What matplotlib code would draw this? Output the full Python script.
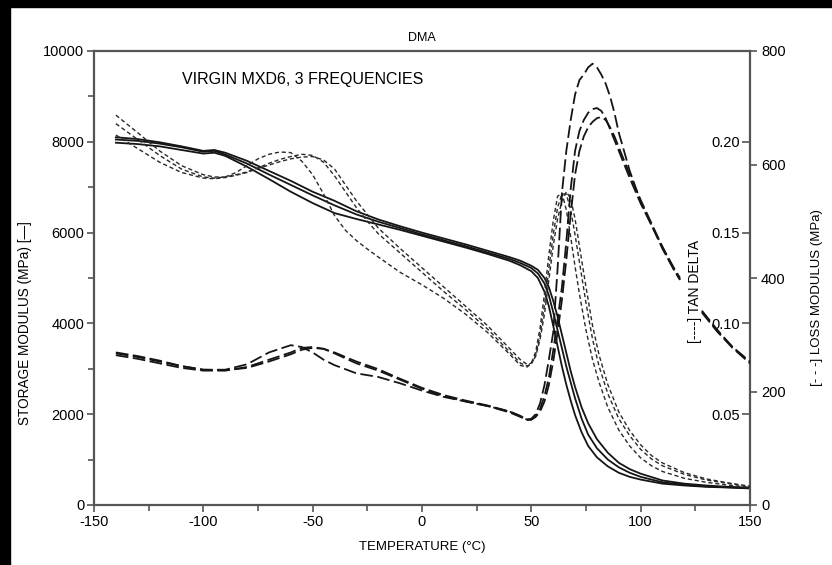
import numpy as np
import matplotlib
matplotlib.use("Agg")
import matplotlib.pyplot as plt
from matplotlib.patches import Rectangle

plt.rcParams['font.family'] = ['Liberation Sans', 'DejaVu Sans']
plt.rcParams['axes.unicode_minus'] = False

# Storage modulus (MPa), three frequencies
temp_e = [-140, -130, -120, -110, -100, -95, -90, -80, -70, -60, -50, -40, -30, -20, -10, 0, 10,
          20, 30, 40, 45, 50, 53, 56, 58, 60, 62, 64, 66, 68, 70, 73, 76, 80, 85, 90, 95, 100,
          110, 120, 130, 140, 150]
storage_lo = [7980, 7950, 7900, 7820, 7740, 7760, 7690, 7450, 7180, 6900, 6650, 6430, 6300, 6180,
              6060, 5930, 5800, 5670, 5530, 5380, 5280, 5150, 5000, 4700, 4380, 3950, 3500, 3050,
              2650, 2300, 1980, 1600, 1300, 1050, 850, 710, 620, 560, 470, 430, 400, 385, 365]
storage_mid = [8050, 8020, 7960, 7880, 7780, 7800, 7720, 7520, 7280, 7050, 6820, 6600, 6400, 6240,
               6100, 5960, 5830, 5700, 5560, 5420, 5330, 5220, 5100, 4880, 4620, 4250, 3850, 3450,
               3050, 2700, 2350, 1900, 1550, 1250, 1000, 830, 710, 620, 500, 445, 410, 390, 370]
storage_hi = [8100, 8060, 7990, 7900, 7800, 7820, 7760, 7580, 7360, 7140, 6900, 6700, 6470, 6290,
              6140, 6000, 5870, 5740, 5600, 5460, 5380, 5270, 5180, 5000, 4800, 4500, 4150, 3750,
              3350, 2950, 2600, 2150, 1800, 1450, 1150, 930, 790, 690, 540, 470, 430, 400, 380]

# Loss modulus (MPa)
temp_l = [-140, -130, -120, -110, -100, -95, -90, -85, -80, -75, -70, -65, -60, -55, -50, -45, -40,
          -35, -30, -25, -20, -10, 0, 10, 20, 30, 40, 45, 48, 50, 52, 54, 56, 58, 60, 62, 64, 66,
          68, 70, 72, 75, 78, 81, 85, 90, 95, 100, 105, 110, 120, 130, 140, 150]
loss_lo = [672, 644, 616, 592, 578, 576, 578, 586, 598, 610, 618, 622, 621, 606, 582, 548, 510,
           484, 466, 451, 437, 410, 388, 364, 336, 304, 266, 246, 243, 250, 270, 312, 372, 440,
           500, 544, 550, 520, 472, 420, 372, 308, 256, 216, 172, 132, 104, 83, 69, 59, 47, 40, 35, 31]
loss_mid = [687, 656, 624, 598, 582, 578, 578, 582, 587, 594, 602, 609, 614, 618, 616, 604, 580,
            552, 524, 500, 478, 444, 410, 376, 344, 310, 270, 250, 245, 248, 264, 300, 352, 416,
            476, 524, 548, 548, 520, 476, 428, 356, 292, 244, 196, 152, 122, 98, 81, 69, 54, 44, 38, 32]
loss_hi = [652, 628, 604, 586, 576, 575, 577, 581, 586, 593, 599, 605, 610, 613, 614, 608, 592,
           564, 536, 512, 488, 452, 418, 384, 350, 316, 276, 256, 248, 250, 262, 292, 336, 396,
           456, 504, 536, 552, 540, 504, 456, 384, 316, 264, 212, 164, 131, 106, 87, 74, 57, 46, 39, 33]

# Tan delta (gap where the record is missing)
temp_d = [-140, -130, -120, -110, -100, -90, -80, -70, -60, -55, -50, -45, -40, -30, -20, -10, 0,
          10, 20, 30, 40, 45, 48, 50, 52, 54, 56, 58, 60, 62, 64, 66, 68, 70, 72, 74, 76, 78, 80,
          82, 84, 86, 88, 90, 95, 100, 105, 110, 115, 118, 122, 128, 135, 142, 150]
tan_lo = [0.0835, 0.0815, 0.0790, 0.0765, 0.0745, 0.0745, 0.0775, 0.0840, 0.0880, 0.0870, 0.0840,
          0.0800, 0.0770, 0.0725, 0.0705, 0.0670, 0.0630, 0.0595, 0.0570, 0.0545, 0.0515, 0.0490,
          0.0470, 0.0475, 0.0500, 0.0560, 0.0660, 0.0800, 0.0950, 0.1300, 0.1720, 0.1950, 0.2120,
          0.2260, 0.2340, 0.2370, 0.2410, 0.2430, 0.2410, 0.2370, 0.2320, 0.2250, 0.2160, 0.2050,
          0.1840, 0.1670, 0.1540, 0.1420, 0.1300, 0.1240, np.nan, 0.1065, 0.0960, 0.0870, 0.0785]
tan_mid = [0.0825, 0.0805, 0.0780, 0.0755, 0.0740, 0.0740, 0.0760, 0.0800, 0.0840, 0.0865, 0.0870,
           0.0860, 0.0835, 0.0780, 0.0740, 0.0690, 0.0640, 0.0600, 0.0570, 0.0545, 0.0510, 0.0485,
           0.0468, 0.0470, 0.0490, 0.0530, 0.0600, 0.0700, 0.0850, 0.1020, 0.1200, 0.1450, 0.1740,
           0.1950, 0.2060, 0.2120, 0.2160, 0.2180, 0.2186, 0.2170, 0.2130, 0.2070, 0.2010, 0.1950,
           0.1800, 0.1660, 0.1540, 0.1410, 0.1300, 0.1240, np.nan, 0.1060, 0.0955, 0.0865, 0.0780]
tan_hi = [0.0840, 0.0820, 0.0795, 0.0765, 0.0745, 0.0742, 0.0755, 0.0790, 0.0830, 0.0855, 0.0865,
          0.0860, 0.0840, 0.0790, 0.0748, 0.0695, 0.0645, 0.0605, 0.0575, 0.0548, 0.0515, 0.0490,
          0.0472, 0.0470, 0.0485, 0.0515, 0.0570, 0.0660, 0.0790, 0.0950, 0.1130, 0.1350, 0.1600,
          0.1820, 0.1950, 0.2030, 0.2080, 0.2110, 0.2130, 0.2137, 0.2120, 0.2080, 0.2030, 0.1970,
          0.1820, 0.1680, 0.1550, 0.1420, 0.1310, 0.1250, np.nan, 0.1070, 0.0965, 0.0870, 0.0790]

ink = '#151515'
spine_col = '#555555'
fs = 10.5

fig = plt.figure(figsize=(8.32, 5.65), dpi=100)
ax = fig.add_axes([94 / 832, 60 / 565, 656 / 832, 454 / 565])

# black scan border at top and left
fig.patches.append(Rectangle((0, 0), 10 / 832, 1, transform=fig.transFigure, color='black', zorder=10))
fig.patches.append(Rectangle((0, 1 - 7 / 565), 1, 7 / 565, transform=fig.transFigure, color='black', zorder=10))

for s in (storage_lo, storage_mid, storage_hi):
    ax.plot(temp_e, s, color=ink, lw=1.3)

ax.set_xlim(-150, 150)
ax.set_ylim(0, 10000)
ax.set_xticks(np.arange(-150, 151, 50))
ax.set_xticks(np.arange(-125, 150, 50), minor=True)
ax.set_yticks(np.arange(0, 10001, 2000))
ax.set_yticks(np.arange(1000, 10000, 2000), minor=True)
ax.tick_params(axis='both', which='major', length=5, width=1.2, color=spine_col, labelsize=fs, pad=2)
ax.tick_params(axis='both', which='minor', length=4, width=1.2, color=spine_col)
for sp in ax.spines.values():
    sp.set_color(spine_col)
    sp.set_linewidth(1.6)

ax.set_xlabel('TEMPERATURE (°C)', fontsize=9.5, labelpad=9)
ax.set_ylabel('STORAGE MODULUS (MPa) [—]', fontsize=9.8)
ax.yaxis.set_label_coords(-0.095, 0.40)
ax.set_title('DMA', fontsize=9, pad=7)
ax.text(0.5015, 0.938, 'VIRGIN MXD6, 3 FREQUENCIES', transform=ax.transAxes,
        ha='right', va='center', fontsize=11.5)

# loss modulus axis (right, outward ticks)
ax2 = ax.twinx()
for l in (loss_lo, loss_mid, loss_hi):
    ax2.plot(temp_l, l, color='#2a2a2a', lw=1.0, dashes=(3, 2))
ax2.set_ylim(0, 800)
ax2.set_yticks(np.arange(0, 801, 200))
ax2.tick_params(axis='y', length=5, width=1.2, color=spine_col, labelsize=fs, pad=3)
for sp in ax2.spines.values():
    sp.set_visible(False)
ax2.text(1.102, 0.458, '[- - -] LOSS MODULUS (MPa)', transform=ax.transAxes,
         rotation=90, ha='center', va='center', fontsize=9.5)

# tan delta axis (ticks on the right spine, labels inside)
ax3 = ax.twinx()
for t in (tan_lo, tan_mid, tan_hi):
    ax3.plot(temp_d, t, color=ink, lw=1.3, dashes=(7, 2.5))
ax3.set_ylim(0, 0.25)
ax3.yaxis.tick_left()
ax3.spines['left'].set_position(('axes', 1.0))
for sp in ax3.spines.values():
    sp.set_visible(False)
ax3.set_yticks([0.05, 0.10, 0.15, 0.20])
ax3.set_yticklabels(['0.05', '0.10', '0.15', '0.20'])
ax3.tick_params(axis='y', length=6, width=1.2, color=spine_col, labelsize=fs, pad=1)
ax3.text(0.916, 0.471, '[----] TAN DELTA', transform=ax.transAxes,
         rotation=90, ha='center', va='center', fontsize=10)

fig.savefig('out.png', dpi=100)
